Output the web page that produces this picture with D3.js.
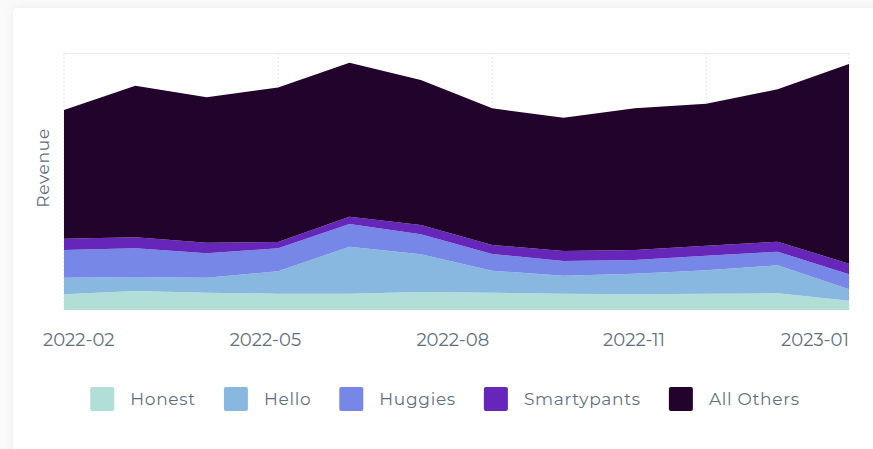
<!DOCTYPE html>
<html>
<head>
<meta charset="utf-8">
<script src="https://cdn.jsdelivr.net/npm/d3@7"></script>
<style>
  html, body { margin: 0; padding: 0; background: #fafafa; width: 873px; height: 449px; overflow: hidden; }
  .card {
    position: absolute; left: 13px; top: 8px; width: 890px; height: 460px;
    background: #fff; border-radius: 4px;
    box-shadow: 0 0 10px rgba(0, 0, 0, 0.07);
  }
  svg { position: absolute; left: 0; top: 0; }
  text { font-family: Montserrat, "DejaVu Sans", sans-serif; fill: #5f717e; }
</style>
</head>
<body>
<div class="card"></div>
<script>
// monthly revenue per brand (thousands)
var months = ["2022-02","2022-03","2022-04","2022-05","2022-06","2022-07",
              "2022-08","2022-09","2022-10","2022-11","2022-12","2023-01"];
var honest      = [157, 190, 173, 163, 163, 180, 173, 163, 157, 163, 167,  93];
var hello       = [166, 140, 150, 224, 470, 377, 220, 180, 206, 234, 280, 114];
var huggies     = [277, 287, 244, 230, 227, 200, 167, 147, 137, 146, 136, 150];
var smartypants = [113, 110, 106,  64,  73,  93,  90, 100, 100, 100, 100, 106];
var allOthers   = [1287, 1516, 1454, 1543, 1540, 1450, 1367, 1333, 1417, 1420, 1524, 1997];

var seriesNames = ["Honest", "Hello", "Huggies", "Smartypants", "All Others"];
var seriesColors = ["#b2ded8", "#88b8e0", "#7687e8", "#6626b9", "#22032b"];
var tickLabels = ["2022-02", "2022-05", "2022-08", "2022-11", "2023-01"];
var yMax = 2570;

var W = 873, H = 449;
var plot = { left: 64, right: 849, top: 53, bottom: 310 };

// build rows for d3.stack
var table = months.map(function (m, i) {
  return {
    month: m,
    "Honest": honest[i],
    "Hello": hello[i],
    "Huggies": huggies[i],
    "Smartypants": smartypants[i],
    "All Others": allOthers[i]
  };
});

var svg = d3.select("body").append("svg")
  .attr("width", W)
  .attr("height", H);

var x = d3.scalePoint().domain(months).range([plot.left, plot.right]);
var y = d3.scaleLinear().domain([0, yMax]).range([plot.bottom, plot.top]);
var color = d3.scaleOrdinal().domain(seriesNames).range(seriesColors);

// grid: solid top line, dotted verticals every third month
var grid = svg.append("g");
grid.append("line")
  .attr("x1", plot.left).attr("x2", plot.right)
  .attr("y1", plot.top + 0.5).attr("y2", plot.top + 0.5)
  .attr("stroke", "#e9e9e9");
var gridMonths = months.filter(function (m, i) { return i % 3 === 0; }).concat([months[months.length - 1]]);
grid.selectAll("line.v")
  .data(gridMonths)
  .enter().append("line")
  .attr("class", "v")
  .attr("x1", d => x(d)).attr("x2", d => x(d))
  .attr("y1", plot.top).attr("y2", plot.bottom)
  .attr("stroke", "#e4e4e4")
  .attr("stroke-dasharray", "2,2");

var stack = d3.stack().keys(seriesNames);
var layers = stack(table);

var area = d3.area()
  .x(d => x(d.data.month))
  .y0(d => y(d[0]))
  .y1(d => y(d[1]));

svg.append("g").selectAll("path")
  .data(layers)
  .enter().append("path")
  .attr("d", area)
  .attr("fill", d => color(d.key));

// x labels are spread evenly, last one kept inside the plot
var labelX = d3.scalePoint().domain(tickLabels).range([43, 43 + 186.7 * 4]);
var xl = svg.append("g").selectAll("text")
  .data(tickLabels)
  .enter().append("text")
  .attr("y", 346)
  .attr("font-size", 18)
  .attr("text-anchor", "start")
  .text(d => d);
xl.attr("x", function (d) {
  var w = this.getComputedTextLength();
  return Math.min(labelX(d), plot.right - w);
});

svg.append("text")
  .attr("transform", "translate(49,168) rotate(-90)")
  .attr("text-anchor", "middle")
  .attr("font-size", 17)
  .attr("letter-spacing", 0.7)
  .text("Revenue");

// legend, centred on the card
var legend = svg.append("g");
var items = legend.selectAll("g")
  .data(seriesNames)
  .enter().append("g");
items.append("rect")
  .attr("width", 24).attr("height", 24)
  .attr("y", 387)
  .attr("rx", 2)
  .attr("fill", d => color(d));
items.append("text")
  .attr("x", 40)
  .attr("y", 405)
  .attr("font-size", 17)
  .attr("letter-spacing", 0.7)
  .text(d => d);

var offsets = [], pos = 0;
items.each(function () {
  offsets.push(pos);
  var tw = d3.select(this).select("text").node().getComputedTextLength();
  pos += 40 + tw + 28;
});
var total = pos - 28;
var startX = 445 - total / 2;
items.attr("transform", (d, i) => "translate(" + (startX + offsets[i]) + ",0)");
</script>
</body>
</html>
